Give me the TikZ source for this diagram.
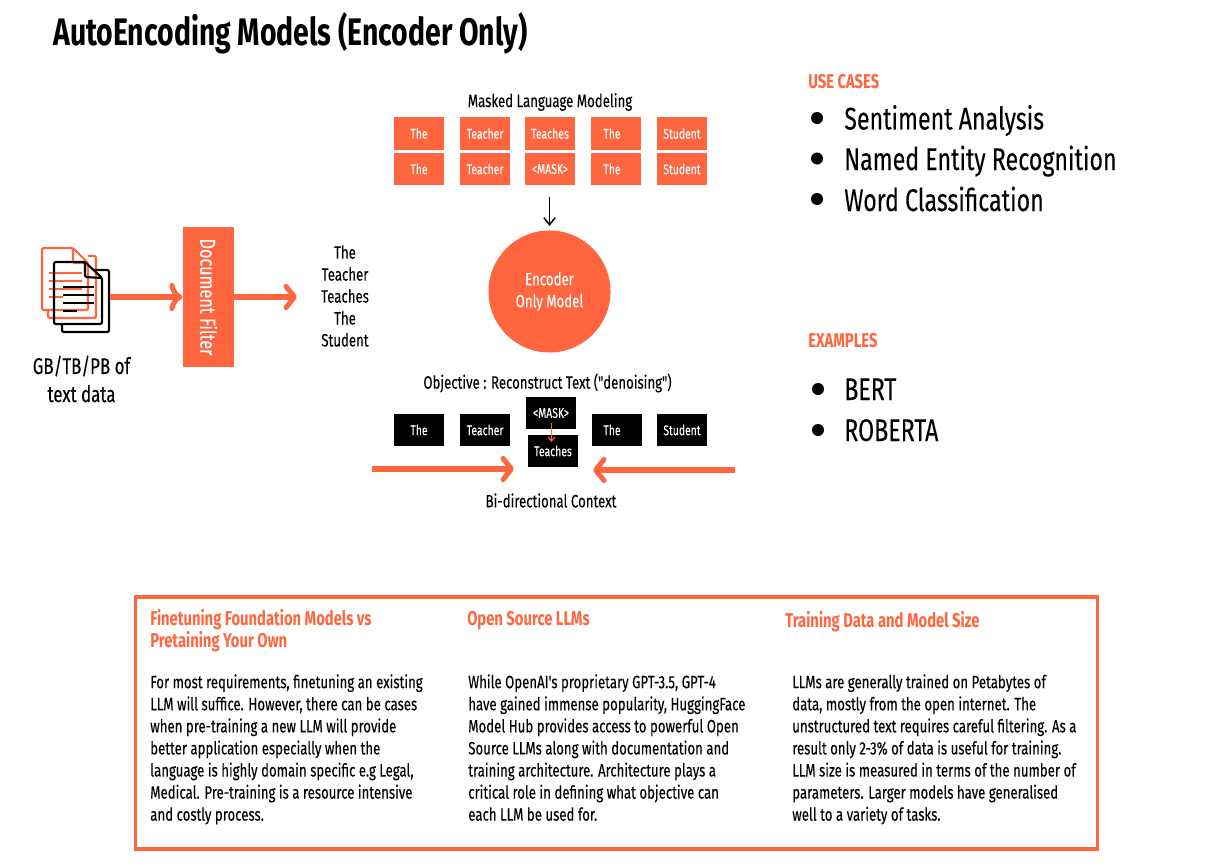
\documentclass[tikz,border=0pt]{standalone}
\usepackage{fontspec}
\setmainfont[FakeStretch=0.74,Ligatures=TeXOff,UprightFeatures={FakeBold=0.15}]{Fira Sans}
\usetikzlibrary{arrows.meta}
\definecolor{coral}{HTML}{FF6640}

\begin{document}
\begin{tikzpicture}
		[x=0.025cm,y=-0.025cm,
		word/.style={font=\fontsize{10}{12}\selectfont,text=white,minimum width=1.25cm,minimum height=0.8cm,inner sep=0pt,fill=coral},
		blackword/.style={word,fill=black},
		lbl/.style={font=\fontsize{12.7}{15.6}\selectfont,inner sep=0pt,align=center},
		src/.style={font=\fontsize{16.2}{20}\selectfont,inner sep=0pt,align=center},
		heading/.style={font=\fontsize{14.2}{15.8}\selectfont\bfseries,text=coral,inner sep=0pt,align=left,anchor=base west},
		body/.style={font=\fontsize{12.7}{15.7}\selectfont,inner sep=0pt,align=left,anchor=north west},
		item/.style={font=\fontsize{22.3}{26}\selectfont,inner sep=0pt,anchor=base west},
		dot/.style={circle,fill=black,minimum size=0.3cm,inner sep=0pt},
		fat/.style={line width=3.6pt,draw=coral,-{Straight Barb[round,length=6pt,width=15pt,line width=3.6pt]}},
		page/.style={line width=1.5pt,line join=round,rounded corners=1pt}]

		\useasboundingbox (0,0) rectangle (1223,867);

		\node[font=\fontsize{27.3}{30}\selectfont\bfseries,inner sep=0pt,anchor=base west] (title) at (53,46) {AutoEncoding Models (Encoder Only)};

		% stacked documents
		\draw[page,draw=coral] (73,248) -- (42,248) -- (42,310) -- (88,310) -- (88,263) -- cycle;
		\draw[page,draw=coral] (73,248) -- (73,263) -- (88,263);
		\draw[page,draw=coral] (88,256) -- (96,256) -- (96,318) -- (48,318) -- (48,310);
		\foreach \y in {273,281,289} \draw[line width=1.1pt,draw=coral] (49,\y) -- (82,\y);
		\draw[line width=1.1pt,draw=coral] (49,297) -- (63,297);
		\draw[page,draw=black] (85,262) -- (54,262) -- (54,324) -- (102,324) -- (102,278) -- cycle;
		\draw[page,draw=black] (85,262) -- (85,277) -- (102,278);
		\draw[page,draw=black] (94,270) -- (109,270) -- (109,332) -- (62,332) -- (62,324);
		\foreach \y in {287,295,303} \draw[line width=1.1pt,draw=black] (63,\y) -- (94,\y);
		\draw[line width=1.1pt,draw=black] (63,311) -- (77,311);

		\coordinate (docs) at (110,297);
		\coordinate (wordsin) at (297,297);

		\node[src] (source) at (81.5,379) {GB/TB/PB of\\text data};

		\node[fill=coral,text=white,minimum width=1.275cm,minimum height=3.5cm,inner sep=0pt] (filter) at (208.5,297) {}
			edge [fat,<-,shorten <=0pt] (docs)
			edge [fat] (wordsin)
		;
		\node[lbl,rotate=-90,text=white,font=\fontsize{15.6}{18}\selectfont] (filtertext) at (208.5,297) {Document Filter};

		\node[lbl] (words) at (345,296) {The\\Teacher\\Teaches\\The\\Student};

		\node[lbl] (masked) at (550,102) {Masked Language Modeling};

		% input rows
		\node[word] (a1) at (419,133.5) {The};
		\node[word] (a2) at (485,133.5) {Teacher};
		\node[word] (a3) at (550,133.5) {Teaches};
		\node[word] (a4) at (616,133.5) {The\hspace*{0.2cm}};
		\node[word] (a5) at (682,133.5) {Student};
		\node[word] (b1) at (419,169) {The};
		\node[word] (b2) at (485,169) {Teacher};
		\node[word] (b3) at (550,169) {<MASK>};
		\node[word] (b4) at (616,169) {The\hspace*{0.2cm}};
		\node[word] (b5) at (682,169) {Student};

		\coordinate (inputs) at (549.5,197);
		\node[circle,fill=coral,text=white,minimum size=3.05cm,inner sep=0pt,align=center,font=\fontsize{12.7}{15.6}\selectfont] (encoder) at (549.5,291.5) {Encoder\\Only Model}
			edge [<-,>={Straight Barb[length=5pt,width=8pt]},line width=1.1pt,draw=black,shorten <=3pt] (inputs)
		;

		\node[lbl] (objective) at (547.5,383) {Objective : Reconstruct Text ("denoising")};

		% output row
		\node[blackword] (c1) at (419,430) {The};
		\node[blackword] (c2) at (485,430) {Teacher};
		\node[blackword] (c4) at (617,430) {The\hspace*{0.25cm}};
		\node[blackword] (c5) at (682,430) {Student};
		\node[blackword] (mask) at (551,413) {<MASK>};
		\node[blackword] (teaches) at (553,451) {Teaches};
		\coordinate (masktail) at (551.5,423);
		\coordinate (maskhead) at (551.5,442);
		\draw[->,>={Straight Barb[length=3pt,width=5pt]},draw=coral,line width=0.8pt] (masktail) -- (maskhead);

		\coordinate (left) at (372,469);
		\coordinate (lefthead) at (514,469);
		\coordinate (right) at (735,470);
		\coordinate (righthead) at (593,470);
		\draw[fat] (left) -- (lefthead);
		\draw[fat] (right) -- (righthead);

		\node[lbl] (context) at (551,500.5) {Bi-directional Context};

		% use cases
		\node[heading] (usecases) at (808,89) {USE CASES};
		\node[dot] (u1) at (817,118) {};
		\node[item] (s1) at (844,129.5) {Sentiment Analysis};
		\node[dot] (u2) at (817,158.5) {};
		\node[item] (s2) at (844,170) {Named Entity Recognition};
		\node[dot] (u3) at (817,199) {};
		\node[item] (s3) at (844,211) {Word Classification};

		% examples
		\node[heading] (examples) at (808,347) {EXAMPLES};
		\node[dot] (e1) at (818,389) {};
		\node[item] (m1) at (844,400) {BERT};
		\node[dot] (e2) at (818,430) {};
		\node[item] (m2) at (844,441) {ROBERTA};

		% notes panel
		\node[draw=coral,line width=2.2pt,minimum width=24.05cm,minimum height=6.3cm,inner sep=0pt] (panel) at (616.5,723) {};

		\node[heading,anchor=west] (h1) at (150,630.5) {Finetuning Foundation Models vs\\Pretaining Your Own};
		\node[heading] (h2) at (467,625) {Open Source LLMs};
		\node[heading] (h3) at (785,627) {Training Data and Model Size};

		\node[body] (t1) at (150,674) {For most requirements, finetuning an existing\\LLM will suffice. However, there can be cases\\when pre-training a new LLM will provide\\better application especially when the\\language is highly domain specific e.g Legal,\\Medical. Pre-training is a resource intensive\\and costly process.};
		\node[body] (t2) at (468,674) {While OpenAI's proprietary GPT-3.5, GPT-4\\have gained immense popularity, HuggingFace\\Model Hub provides access to powerful Open\\Source LLMs along with documentation and\\training architecture. Architecture plays a\\critical role in defining what objective can\\each LLM be used for.};
		\node[body] (t3) at (792,674) {LLMs are generally trained on Petabytes of\\data, mostly from the open internet. The\\unstructured text requires careful filtering. As a\\result only 2-3\% of data is useful for training.\\LLM size is measured in terms of the number of\\parameters. Larger models have generalised\\well to a variety of tasks.};
\end{tikzpicture}
\end{document}
